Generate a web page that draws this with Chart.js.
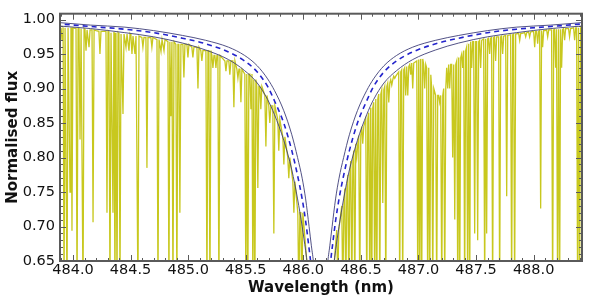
<!DOCTYPE html>
<html><head><meta charset="utf-8">
<script src="https://cdn.jsdelivr.net/npm/chart.js@4/dist/chart.umd.min.js"></script>
<style>html,body{margin:0;padding:0;background:#fff}canvas{display:block}</style>
</head><body>
<canvas id="c" width="600" height="301"></canvas>
<script>
// ---- axis ticks ----
const xTicks = [484.0, 484.5, 485.0, 485.5, 486.0, 486.5, 487.0, 487.5, 488.0];
const yTicks = [0.65, 0.70, 0.75, 0.80, 0.85, 0.90, 0.95, 1.00];
const xRange = [483.887, 488.42];
const yRange = [0.65, 1.0085];

// ---- H-beta model profiles ----
const profileWave = [483.85, 484.15, 484.45, 484.70, 484.95, 485.15, 485.35, 485.49, 485.60, 485.69, 485.75, 485.83, 485.90, 485.95, 485.99, 486.02, 486.05, 486.07, 486.09, 486.15,
  486.21, 486.23, 486.25, 486.28, 486.31, 486.35, 486.40, 486.47, 486.55, 486.61, 486.70, 486.81, 486.95, 487.15, 487.35, 487.60, 487.85, 488.15, 488.45];
const dashedFlux = [0.994, 0.990, 0.986, 0.981, 0.973, 0.965, 0.953, 0.940, 0.924, 0.903, 0.882, 0.850, 0.810, 0.774, 0.740, 0.708, 0.668, 0.640, 0.610, 0.500,
  0.610, 0.640, 0.668, 0.708, 0.740, 0.774, 0.810, 0.850, 0.882, 0.903, 0.924, 0.940, 0.953, 0.965, 0.973, 0.981, 0.986, 0.990, 0.994];
const narrowFlux = [0.996, 0.992, 0.989, 0.984, 0.977, 0.970, 0.960, 0.948, 0.933, 0.914, 0.897, 0.868, 0.833, 0.800, 0.770, 0.740, 0.700, 0.672, 0.645, 0.500,
  0.645, 0.672, 0.700, 0.740, 0.770, 0.800, 0.833, 0.868, 0.897, 0.914, 0.933, 0.948, 0.960, 0.970, 0.977, 0.984, 0.989, 0.992, 0.996];
const wideFlux = [0.991, 0.987, 0.981, 0.975, 0.966, 0.956, 0.942, 0.926, 0.908, 0.884, 0.862, 0.825, 0.782, 0.740, 0.700, 0.665, 0.625, 0.600, 0.570, 0.450,
  0.570, 0.600, 0.625, 0.665, 0.700, 0.740, 0.782, 0.825, 0.862, 0.884, 0.908, 0.926, 0.942, 0.956, 0.966, 0.975, 0.981, 0.987, 0.991];

// ---- observed spectrum: continuum samples ----
const contWave = [483.887, 484.0, 484.2, 484.4, 484.6, 484.8, 485.0, 485.2, 485.4, 485.5, 485.6, 485.7, 485.76, 485.8, 485.85, 485.9, 485.95, 486.0, 486.03, 486.06, 486.15,
  486.24, 486.27, 486.30, 486.35, 486.40, 486.45, 486.50, 486.54, 486.60, 486.70, 486.80, 486.90, 487.10, 487.30, 487.50, 487.70, 487.90, 488.10, 488.30, 488.42];
const contFlux = [0.989, 0.987, 0.984, 0.980, 0.975, 0.969, 0.961, 0.950, 0.933, 0.921, 0.905, 0.878, 0.855, 0.838, 0.810, 0.778, 0.735, 0.685, 0.650, 0.600, 0.450,
  0.600, 0.650, 0.685, 0.735, 0.778, 0.810, 0.838, 0.855, 0.878, 0.905, 0.921, 0.933, 0.950, 0.961, 0.969, 0.975, 0.980, 0.984, 0.987, 0.989];

// ---- observed spectrum: absorption lines (centre, minimum flux, local top) ----
const lineCentre = [
  483.905, 483.922, 483.948, 483.974, 483.991, 484.035, 484.061, 484.087, 484.113, 484.139,
  484.174, 484.234, 484.295, 484.321, 484.347, 484.364, 484.382, 484.408, 484.434, 484.460,
  484.486, 484.512, 484.538, 484.564, 484.607, 484.642, 484.685, 484.738, 484.764, 484.790,
  484.833, 484.850, 484.868, 484.902, 484.928, 484.963, 484.998, 485.041, 485.085, 485.119,
  485.163, 485.189, 485.215, 485.241, 485.267, 485.328, 485.362, 485.397, 485.432, 485.458,
  485.501, 485.518, 485.545, 485.562, 485.579, 485.605, 485.631, 485.675, 485.709, 485.744,
  485.787, 485.831, 485.874, 485.918, 485.961, 485.987,
  486.299, 486.343, 486.369, 486.395, 486.421, 486.447, 486.464, 486.490, 486.516, 486.551,
  486.577, 486.594, 486.620, 486.638, 486.664, 486.690, 486.716, 486.742, 486.768, 486.794,
  486.837, 486.863, 486.889, 486.907, 486.933, 486.950, 486.994, 487.011, 487.028, 487.054,
  487.080, 487.098, 487.124, 487.158, 487.184, 487.202, 487.228, 487.254, 487.271, 487.297,
  487.315, 487.341, 487.358, 487.384, 487.401, 487.427, 487.445, 487.462, 487.488, 487.514,
  487.540, 487.575, 487.592, 487.618, 487.644, 487.670, 487.705, 487.731, 487.766, 487.809,
  487.835, 487.879, 487.931, 487.965, 488.009, 488.035, 488.061, 488.078, 488.122, 488.165,
  488.191, 488.208, 488.226, 488.243, 488.269, 488.312, 488.356, 488.382, 488.399];
const lineMinimum = [
  0.970, 0.600, 0.600, 0.750, 0.694, 0.600, 0.826, 0.600, 0.955, 0.960,
  0.706, 0.950, 0.720, 0.600, 0.720, 0.600, 0.600, 0.600, 0.863, 0.960,
  0.955, 0.950, 0.950, 0.600, 0.960, 0.785, 0.960, 0.600, 0.954, 0.955,
  0.600, 0.860, 0.600, 0.600, 0.720, 0.916, 0.945, 0.945, 0.900, 0.940,
  0.600, 0.600, 0.930, 0.930, 0.600, 0.925, 0.920, 0.873, 0.915, 0.880,
  0.600, 0.600, 0.870, 0.600, 0.600, 0.756, 0.870, 0.816, 0.850, 0.690,
  0.810, 0.790, 0.770, 0.720, 0.600, 0.600,
  0.620, 0.600, 0.600, 0.600, 0.600, 0.600, 0.800, 0.600, 0.820, 0.600,
  0.600, 0.600, 0.600, 0.600, 0.600, 0.734, 0.600, 0.880, 0.905, 0.915,
  0.600, 0.600, 0.890, 0.890, 0.920, 0.900, 0.600, 0.600, 0.600, 0.900,
  0.600, 0.600, 0.600, 0.600, 0.880, 0.600, 0.600, 0.900, 0.900, 0.800,
  0.710, 0.600, 0.600, 0.930, 0.600, 0.600, 0.600, 0.930, 0.690, 0.680,
  0.930, 0.600, 0.690, 0.950, 0.600, 0.940, 0.600, 0.950, 0.744, 0.600,
  0.600, 0.970, 0.975, 0.975, 0.960, 0.965, 0.726, 0.960, 0.975, 0.600,
  0.930, 0.600, 0.600, 0.930, 0.970, 0.975, 0.970, 0.600, 0.600];
const lineContinuum = [
  0.988, 0.988, 0.988, 0.988, 0.988, 0.987, 0.987, 0.987, 0.985, 0.985,
  0.985, 0.983, 0.983, 0.981, 0.981, 0.981, 0.981, 0.979, 0.979, 0.979,
  0.979, 0.976, 0.976, 0.976, 0.974, 0.974, 0.974, 0.971, 0.971, 0.971,
  0.968, 0.968, 0.968, 0.964, 0.964, 0.964, 0.964, 0.960, 0.960, 0.955,
  0.955, 0.955, 0.948, 0.948, 0.948, 0.940, 0.940, 0.940, 0.928, 0.928,
  0.921, 0.921, 0.921, 0.913, 0.913, 0.903, 0.903, 0.890, 0.875, 0.875,
  0.855, 0.830, 0.800, 0.765, 0.720, 0.720,
  0.695, 0.730, 0.755, 0.775, 0.795, 0.810, 0.820, 0.832, 0.845, 0.856,
  0.865, 0.872, 0.880, 0.885, 0.892, 0.898, 0.903, 0.908, 0.913, 0.918,
  0.924, 0.927, 0.930, 0.932, 0.935, 0.937, 0.940, 0.942, 0.943, 0.935,
  0.930, 0.920, 0.900, 0.890, 0.890, 0.890, 0.900, 0.930, 0.935, 0.935,
  0.935, 0.940, 0.945, 0.950, 0.955, 0.960, 0.965, 0.968, 0.968, 0.968,
  0.970, 0.972, 0.972, 0.973, 0.974, 0.975, 0.975, 0.976, 0.977, 0.978,
  0.979, 0.980, 0.981, 0.982, 0.983, 0.983, 0.984, 0.984, 0.985, 0.985,
  0.986, 0.986, 0.986, 0.986, 0.987, 0.987, 0.988, 0.988, 0.988];
const lineHalfWidth = 0.009;

// ---- build spectrum points from the read values ----
const specPts = [];
contWave.forEach((w, i) => {
  if (!lineCentre.some(c => Math.abs(c - w) < 0.02)) specPts.push({x: w, y: contFlux[i]});
});
lineCentre.forEach((c, i) => {
  specPts.push({x: c - lineHalfWidth, y: lineContinuum[i]});
  specPts.push({x: c, y: lineMinimum[i]});
  specPts.push({x: c + lineHalfWidth, y: lineContinuum[i]});
});
specPts.sort((a, b) => a.x - b.x);

const toPts = (ws, fs) => ws.map((w, i) => ({x: w, y: fs[i]}));

const AXIS = '#5a5a5a';
const frameTicks = {
  id: 'frameTicks',
  afterDatasetsDraw(chart) {
    const {ctx, chartArea: a, scales: {x, y}} = chart;
    ctx.save();
    ctx.strokeStyle = AXIS;
    ctx.lineWidth = 1;
    ctx.beginPath();
    const xStart = Math.ceil(xRange[0] * 10 - 1e-6);
    for (let k = xStart; k / 10 <= xRange[1] + 1e-9; k++) {
      const v = k / 10;
      const px = Math.round(x.getPixelForValue(v)) + 0.5;
      const len = (k % 5 === 0) ? 6 : 3;
      ctx.moveTo(px, a.bottom); ctx.lineTo(px, a.bottom - len);
      ctx.moveTo(px, a.top); ctx.lineTo(px, a.top + len);
    }
    for (let k = 65; k <= 100; k++) {
      const v = k / 100;
      const py = Math.round(y.getPixelForValue(v)) + 0.5;
      const len = (k % 5 === 0) ? 6 : 3;
      ctx.moveTo(a.left, py); ctx.lineTo(a.left + len, py);
      ctx.moveTo(a.right, py); ctx.lineTo(a.right - len, py);
    }
    ctx.stroke();
    ctx.lineWidth = 2;
    ctx.strokeRect(a.left, a.top, a.right - a.left, a.bottom - a.top);
    ctx.restore();
  }
};

new Chart(document.getElementById('c'), {
  type: 'line',
  data: {
    datasets: [
      {label: 'observed', data: specPts, borderColor: 'rgb(200,200,30)', borderWidth: 1.3, pointRadius: 0, tension: 0, order: 4},
      {label: 'model narrow', data: toPts(profileWave, narrowFlux), borderColor: '#3e3e78', borderWidth: 0.9, pointRadius: 0, cubicInterpolationMode: 'monotone', order: 3},
      {label: 'model wide', data: toPts(profileWave, wideFlux), borderColor: '#3e3e78', borderWidth: 0.9, pointRadius: 0, cubicInterpolationMode: 'monotone', order: 2},
      {label: 'model', data: toPts(profileWave, dashedFlux), borderColor: '#2424cc', borderWidth: 1.6, borderDash: [5, 4], pointRadius: 0, cubicInterpolationMode: 'monotone', order: 1}
    ]
  },
  options: {
    responsive: false,
    devicePixelRatio: 1,
    animation: false,
    events: [],
    layout: {padding: {left: 0, right: 18, top: 10, bottom: 0}},
    plugins: {legend: {display: false}, tooltip: {enabled: false}},
    scales: {
      x: {
        type: 'linear', position: 'bottom', min: xRange[0], max: xRange[1],
        grid: {display: false, drawTicks: false}, border: {display: false},
        afterBuildTicks: s => { s.ticks = xTicks.map(v => ({value: v})); },
        afterFit: s => { s.height = 40; },
        ticks: {font: {family: 'DejaVu Sans', size: 14.5}, color: '#111', padding: 1, maxRotation: 0, autoSkip: false,
          callback: v => Number(v).toFixed(1)},
        title: {display: true, text: 'Wavelength (nm)', font: {family: 'DejaVu Sans', size: 15, weight: 'bold'}, color: '#111', padding: {top: 0, bottom: 4}}
      },
      y: {
        type: 'linear', position: 'left', min: yRange[0], max: yRange[1],
        grid: {display: false, drawTicks: false}, border: {display: false},
        afterBuildTicks: s => { s.ticks = yTicks.map(v => ({value: v})); },
        afterFit: s => { s.width = 60; },
        ticks: {font: {family: 'DejaVu Sans', size: 14.5}, color: '#111', padding: 5, autoSkip: false,
          callback: v => Number(v).toFixed(2)},
        title: {display: true, text: 'Normalised flux', font: {family: 'DejaVu Sans', size: 15, weight: 'bold'}, color: '#111', padding: {top: 4, bottom: 0}}
      }
    }
  },
  plugins: [frameTicks]
});
</script>
</body></html>
